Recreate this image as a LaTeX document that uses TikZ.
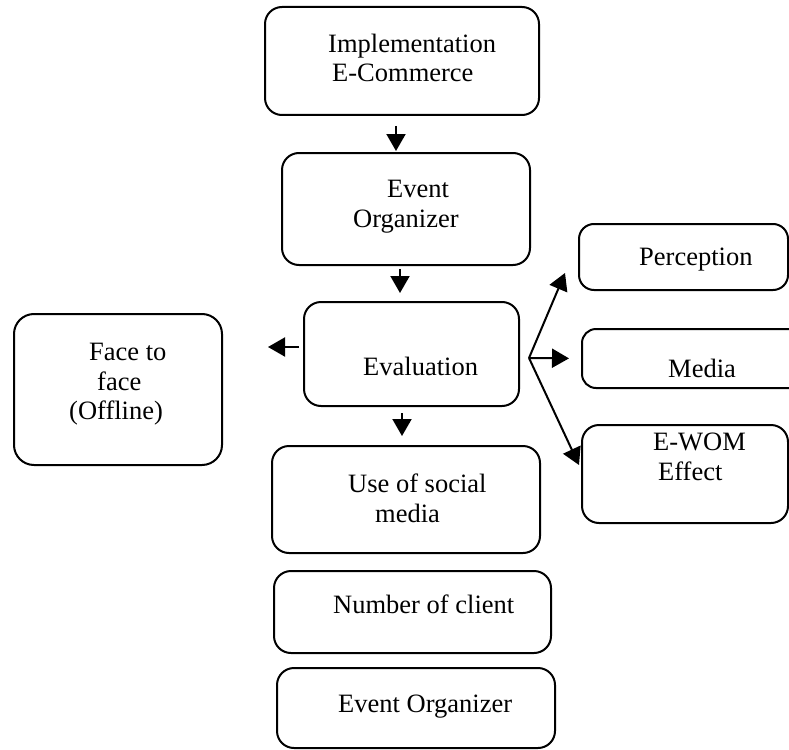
\documentclass[tikz,border=0pt]{standalone}
\usepackage{fontspec}
\setmainfont{Liberation Serif}
\usetikzlibrary{arrows.meta}
\begin{document}
\begin{tikzpicture}[x=1pt,y=-1pt,
  box/.style={draw=black, line width=2pt, rounded corners=17pt, rectangle, inner sep=0pt},
  txt/.style={anchor=base west, inner sep=0pt, font=\fontsize{26.5}{30}\selectfont},
  arr/.style={line width=2pt, -{Triangle[width=19pt,length=17pt]}}]
\useasboundingbox (0,0) rectangle (789,749);
\clip (0,0) rectangle (789,749);

% boxes
\node[box, minimum width=274pt, minimum height=108pt] (impl) at (402,61) {};
\node[box, minimum width=248pt, minimum height=112pt] (eo1) at (406,209) {};
\node[box, minimum width=215pt, minimum height=104pt] (eval) at (411.5,354) {};
\node[box, minimum width=208pt, minimum height=151pt, rounded corners=20pt] (face) at (118,389.5) {};
\node[box, minimum width=209pt, minimum height=66pt, rounded corners=15pt] (perc) at (683.5,257) {};
\node[box, minimum width=223pt, minimum height=59pt, rounded corners=14pt] (media) at (693.5,358.5) {};
\node[box, minimum width=206pt, minimum height=98pt, rounded corners=17pt] (ewom) at (685,474) {};
\node[box, minimum width=268pt, minimum height=107pt] (use) at (406,499.5) {};
\node[box, minimum width=277pt, minimum height=82pt] (num) at (412.5,612) {};
\node[box, minimum width=278pt, minimum height=80pt] (eo2) at (416,708) {};

% texts
\node[txt] (t1a) at (328,53) {Implementation};
\node[txt] (t1b) at (332,82) {E-Commerce};
\node[txt] (t2a) at (387,197) {Event};
\node[txt] (t2b) at (353,227) {Organizer};
\node[txt] (t3) at (363,375) {Evaluation};
\node[txt] (t4a) at (89,360) {Face to};
\node[txt] (t4b) at (97,390) {face};
\node[txt] (t4c) at (69,419) {(Offline)};
\node[txt] (t5) at (639,265) {Perception};
\node[txt] (t6) at (668,377) {Media};
\node[txt] (t7a) at (653,450) {E-WOM};
\node[txt] (t7b) at (658,480) {Effect};
\node[txt] (t8a) at (348,492) {Use of social};
\node[txt] (t8b) at (375,522) {media};
\node[txt] (t9) at (333,613) {Number of client};
\node[txt] (t10) at (338,712) {Event Organizer};

% arrow x-positions
\coordinate (xa) at (396,0);
\coordinate (xb) at (400,0);
\coordinate (xc) at (402,0);
\coordinate (ya) at (0,347);

\draw[arr, shorten <=10pt, shorten >=1pt] (impl.south -| xa) -- (eo1.north -| xa);
\draw[arr, shorten <=3pt, shorten >=8pt] (eo1.south -| xb) -- (eval.north -| xb);
\draw[arr, shorten <=4pt, shorten >=45pt] (eval.west |- ya) -- (face.east |- ya);
\draw[arr, shorten <=6pt, shorten >=9pt] (eval.south -| xc) -- (use.north -| xc);

% branching arrows
\coordinate (br) at (529,358);
\coordinate (tp) at (565,273);
\coordinate (te) at (579,465);
\draw[arr] (br) -- (tp);
\draw[arr, shorten >=12pt] (br) -- (media.west);
\draw[arr] (br) -- (te);
\end{tikzpicture}
\end{document}
